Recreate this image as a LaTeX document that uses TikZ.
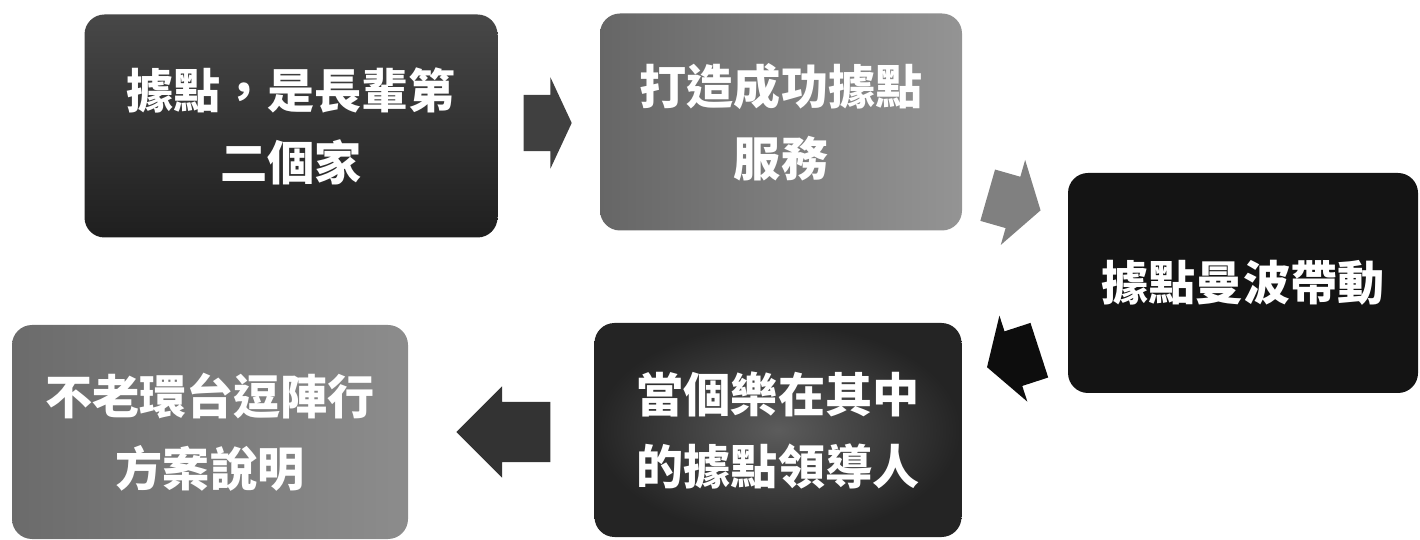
\documentclass[tikz,border=0pt]{standalone}
\usepackage{fontspec}
\newfontfamily\cjk{Noto Sans CJK TC}[Script=CJK, Language=Chinese Traditional]
\usetikzlibrary{shapes.arrows}

\tikzset{
  box/.style={rounded corners=2mm, inner sep=0pt, align=center, text=white,
    font=\cjk\bfseries\fontsize{13.4pt}{20.5pt}\selectfont},
  flow/.style={single arrow, inner xsep=0pt, anchor=tail}
}

\begin{document}
\begin{tikzpicture}[x=0.1mm, y=-0.1mm]
            \useasboundingbox (0,0) rectangle (1420,540);

            \coordinate (P) at (291, 126);
            \coordinate (Q) at (781, 122);
            \coordinate (R) at (1243, 283);
            \coordinate (S) at (778, 430);
            \coordinate (T) at (210, 432);

            \node[box, minimum width=41.3mm, minimum height=22.3mm, top color=black!72, bottom color=black!88] (home) at (P) {據點，是長輩第\\二個家};
            \node[box, minimum width=36.2mm, minimum height=21.7mm, left color=black!60, right color=black!42] (serve) at (Q) {打造成功據點\\服務};
            \node[box, minimum width=35mm, minimum height=22mm, fill=black!92] (mambo) at (R) {據點曼波帶動};
            \node[box, minimum width=36.7mm, minimum height=21.4mm, inner color=black!64, outer color=black!86] (leader) at (S) {當個樂在其中\\的據點領導人};
            \node[box, minimum width=39.6mm, minimum height=21.4mm, left color=black!58, right color=black!45] (tour) at (T) {不老環台逗陣行\\方案說明};

            \node[flow, fill=black!75, inner ysep=2.75mm, minimum height=4.8mm, single arrow head extend=1.75mm, single arrow tip angle=130] (a1) at (523, 123) {};
            \node[flow, fill=black!50, rotate=-16, inner ysep=2.6mm, minimum height=5.5mm, single arrow head extend=1.75mm, single arrow tip angle=114] (a2) at (987, 195) {};
            \node[flow, fill=black!95, rotate=198, inner ysep=2.8mm, minimum height=5.5mm, single arrow head extend=1.65mm, single arrow tip angle=117] (a3) at (1040, 350) {};
            \node[flow, fill=black!80, rotate=180, inner ysep=2.95mm, minimum height=9.4mm, single arrow head extend=1.55mm, single arrow tip angle=90] (a4) at (551, 432) {};
        \end{tikzpicture}
\end{document}
